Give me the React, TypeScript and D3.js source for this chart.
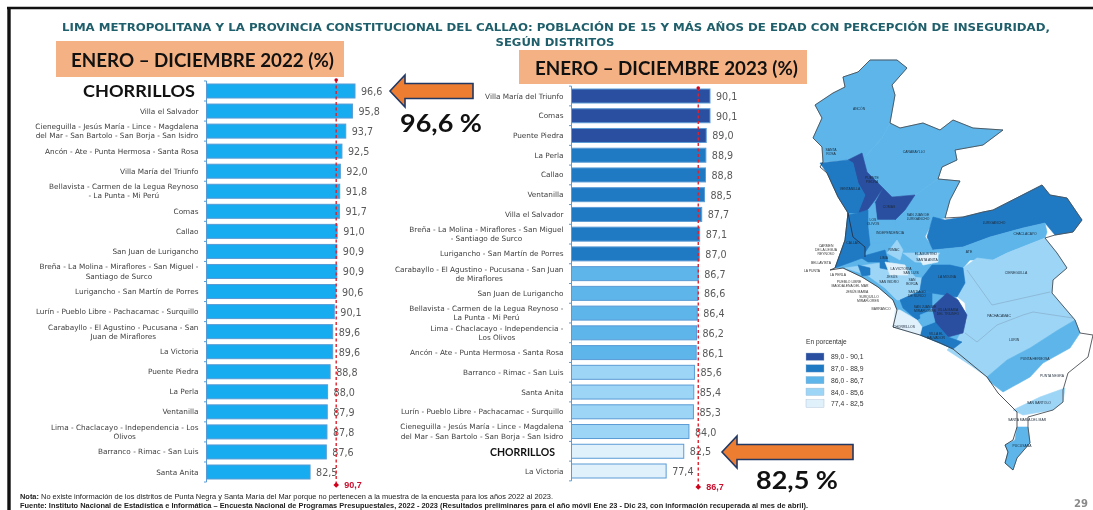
import React from "react";
import * as d3 from "d3";

// ---------- data ----------
const labels2022 = ["CHORRILLOS","Villa el Salvador","Cieneguilla - Jesús María - Lince - Magdalena\ndel Mar - San Bartolo - San Borja - San Isidro","Ancón - Ate - Punta Hermosa - Santa Rosa","Villa María del Triunfo","Bellavista - Carmen de la Legua Reynoso\n- La Punta - Mi Perú","Comas","Callao","San Juan de Lurigancho","Breña - La Molina - Miraflores - San Miguel -\nSantiago de Surco","Lurigancho - San Martín de Porres","Lurín - Pueblo Libre - Pachacamac - Surquillo","Carabayllo - El Agustino - Pucusana - San\nJuan de Miraflores","La Victoria","Puente Piedra","La Perla","Ventanilla","Lima - Chaclacayo - Independencia - Los\nOlivos","Barranco - Rimac - San Luis","Santa Anita"];
const values2022 = [96.6,95.8,93.7,92.5,92.0,91.8,91.7,91.0,90.9,90.9,90.6,90.1,89.6,89.6,88.8,88.0,87.9,87.8,87.6,82.5];
const labels2023 = ["Villa María del Triunfo","Comas","Puente Piedra","La Perla","Callao","Ventanilla","Villa el Salvador","Breña - La Molina - Miraflores - San Miguel\n- Santiago de Surco","Lurigancho - San Martín de Porres","Carabayllo - El Agustino - Pucusana - San Juan\nde Miraflores","San Juan de Lurigancho","Bellavista - Carmen de la Legua Reynoso -\nLa Punta - Mi Perú","Lima - Chaclacayo - Independencia -\nLos Olivos","Ancón - Ate - Punta Hermosa - Santa Rosa","Barranco - Rimac - San Luis","Santa Anita","Lurín - Pueblo Libre - Pachacamac - Surquillo","Cieneguilla - Jesús María - Lince - Magdalena\ndel Mar - San Bartolo - San Borja - San Isidro","CHORRILLOS","La Victoria"];
const values2023 = [90.1,90.1,89.0,88.9,88.8,88.5,87.7,87.1,87.0,86.7,86.6,86.4,86.2,86.1,85.6,85.4,85.3,84.0,82.5,77.4];
const average2022 = 90.7;
const average2023 = 86.7;
const legendLabels = ["89,0 - 90,1","87,0 - 88,9","86,0 - 86,7","84,0 - 85,6","77,4 - 82,5"];
const legendColors = ["#2B4FA0","#2079C3","#5DB5EA","#9DD5F6","#E0F1FC"];
const colorBreaks = [84,86,87,89];

// ---------- map shapes: [legend class, outline] ----------
type Shape = [number, number[][]];
const mapShapes: Shape[] = [
 [2,[[848,213],[868,205],[897,220],[925,237],[933,250],[963,268],[965,283],[953,293],[967,315],[963,333],[953,349],[920,335],[893,327],[897,310],[893,300],[878,287],[862,277],[843,268],[835,268],[845,240]]],
 [2,[[848,160],[865,157],[887,192],[895,220],[877,220],[858,213]]],
 [2,[[815,105],[833,93],[845,87],[843,77],[858,72],[870,60],[897,60],[907,68],[892,85],[895,95],[890,123],[882,138],[865,157],[847,160],[823,162],[822,147],[813,138],[822,118]]],
 [2,[[890,123],[900,128],[923,123],[940,130],[953,120],[973,128],[1003,130],[983,145],[955,150],[957,160],[942,167],[938,179],[918,193],[915,195],[892,197],[883,188],[867,172],[862,153],[865,157],[882,138]]],
 [2,[[938,179],[960,181],[950,200],[945,218],[933,220],[925,237],[933,248],[918,252],[897,242],[895,220],[915,195]]],
 [0,[[862,153],[867,172],[883,188],[875,200],[862,217],[858,212],[865,195],[858,183],[853,163],[848,160]]],
 [0,[[883,188],[892,197],[915,195],[905,210],[895,220],[877,220],[875,203]]],
 [1,[[820,163],[848,160],[853,163],[858,183],[865,195],[858,213],[848,213],[838,197],[827,173]]],
 [2,[[868,210],[875,203],[877,220],[895,220],[897,242],[878,243],[870,242]]],
 [1,[[858,213],[868,210],[868,227],[870,245],[862,257],[852,245],[848,215]]],
 [1,[[848,213],[853,237],[865,247],[865,257],[835,268],[845,240]]],
 [1,[[927,237],[933,217],[945,220],[963,217],[983,212],[993,210],[1042,185],[1050,195],[1067,198],[1082,220],[1073,232],[1055,235],[1045,223],[1023,228],[990,237],[963,247],[933,250]]],
 [2,[[933,250],[963,247],[990,237],[1023,228],[1045,223],[1047,232],[1045,238],[1007,253],[993,260],[970,260],[963,268],[937,267],[925,265]]],
 [3,[[963,268],[977,258],[993,260],[1007,253],[1045,238],[1057,253],[1067,268],[1053,280],[1052,293],[1075,320],[1058,330],[1030,348],[1007,360],[987,377],[970,365],[947,350],[957,340],[967,320],[965,303],[953,293],[965,283]]],
 [2,[[987,377],[1007,360],[1030,348],[1058,330],[1075,320],[1080,333],[1070,348],[1043,363],[1030,377],[1003,392],[990,382]]],
 [3,[[1013,410],[1040,397],[1065,388],[1063,402],[1053,410],[1023,415]]],
 [2,[[1017,427],[1028,427],[1030,443],[1017,458],[1013,470],[1005,463],[1008,452],[1005,445],[1015,440]]],
 [3,[[845,268],[880,263],[897,272],[900,278],[913,277],[922,278],[920,290],[900,300],[897,300],[885,288],[867,275]]],
 [1,[[922,278],[932,265],[950,265],[963,268],[965,283],[957,297],[932,293],[920,290]]],
 [0,[[932,307],[947,293],[958,300],[967,315],[963,333],[948,337],[935,323]]],
 [1,[[922,327],[935,322],[948,337],[962,342],[953,349],[940,343],[920,335]]],
 [1,[[900,300],[920,291],[932,293],[932,307],[922,317],[917,320],[903,308]]],
 [2,[[920,315],[932,310],[935,322],[922,327]]],
 [4,[[895,310],[900,310],[917,320],[922,327],[920,335],[912,333],[893,327]]],
 [1,[[858,265],[870,268],[870,275],[862,276]]],
 [1,[[860,257],[885,250],[888,262],[868,262]]],
 [1,[[880,262],[890,262],[890,270],[880,268]]],
 [3,[[887,253],[897,240],[903,250],[900,260]]],
 [3,[[893,267],[907,267],[915,277],[900,278]]],
 [3,[[903,253],[940,253],[932,263],[915,262]]],
 [4,[[918,256],[938,253],[938,262],[923,265]]],
 [4,[[885,262],[905,265],[908,275],[890,275]]],
];
const outerEdge = [[823,162],[822,147],[813,138],[822,118],[815,105],[833,93],[845,87],[843,77],[858,72],[870,60],[897,60],[907,68],[892,85],[895,95],[890,123],[900,128],[923,123],[940,130],[953,120],[973,128],[1003,130],[983,145],[955,150],[957,160],[942,167],[938,179],[960,181],[950,200],[945,218],[963,217],[983,212],[993,210],[1042,185],[1050,195],[1067,198],[1082,220],[1073,232],[1055,235],[1045,238],[1057,253],[1067,268],[1053,280],[1052,293],[1075,320],[1080,333],[1093,335],[1088,357],[1068,373],[1063,390],[1063,402],[1053,410],[1028,417],[1028,427],[1030,443],[1017,458],[1013,470]];
const coast = [[823,162],[820,167],[827,173],[838,197],[848,213],[845,240],[835,268],[830,270],[843,268],[862,277],[878,287],[893,300],[897,310],[893,327],[920,335],[940,343],[953,349],[987,377],[998,393],[1017,412],[1017,427],[1013,440],[1005,445],[1008,452],[1005,463],[1013,470]];
const innerDark = [[848,213],[853,237],[865,247],[865,257]];
const innerThin = [[[965,333],[977,342],[997,325],[1023,315],[1033,312],[1073,318]],[[967,270],[992,305],[1050,292]]];
const mapNames: [string,number,number][] = [["ANCÓN",859,110],["SANTA",831,151],["ROSA",831,155],["CARABAYLLO",914,153],["PUENTE",872,179],["PIEDRA",872,183],["VENTANILLA",850,190],["COMAS",889,208],["LOS",873,221],["OLIVOS",873,225],["INDEPENDENCIA",890,234],["SAN JUAN DE",918,216],["LURIGANCHO",918,220],["LURIGANCHO",994,224],["CHACLACAYO",1025,235],["ATE",969,253],["CALLAO",853,244],["CIENEGUILLA",1016,274],["EL AGUSTINO",926,255],["SANTA ANITA",927,261],["LA MOLINA",947,278],["PACHACAMAC",999,317],["LURÍN",1014,341],["PUNTA HERMOSA",1035,360],["PUNTA NEGRA",1052,377],["SAN BARTOLO",1039,404],["SANTA MARÍA DEL MAR",1027,421],["PUCUSANA",1022,447],["CHORRILLOS",904,328],["VILLA EL",936,335],["SALVADOR",936,339],["VILLA MARÍA",948,311],["DEL TRIUNFO",948,315],["SAN JUAN DE",925,308],["MIRAFLORES",925,312],["SANTIAGO",917,293],["DE SURCO",917,297],["LIMA",884,259],["LA VICTORIA",901,270],["SAN LUIS",911,274],["JESÚS",892,278],["SAN ISIDRO",889,283],["SAN",912,281],["BORJA",912,285],["RIMAC",894,251]];
const coastNames: [string,number,number][] = [["CARMEN",826,247],["DE LA LEGUA",826,251],["REYNOSO",826,255],["BELLAVISTA",821,264],["LA PUNTA",812,272],["LA PERLA",838,276],["PUEBLO LIBRE",849,283],["MAGDALENA DEL MAR",850,287],["JESÚS MARÍA",857,293],["SURQUILLO",869,298],["MIRAFLORES",868,302],["BARRANCO",881,310]];

const FONT = "'DejaVu Sans', sans-serif";
const ARIAL = "'Liberation Sans', Arial, sans-serif";
const LATO = "Lato, 'Open Sans', sans-serif";
const LABEL_SIZE = 7.3;

const classOf = d3.scaleThreshold<number, string>().domain(colorBreaks).range([...legendColors].reverse());
const lineGen = d3.line<number[]>().x(d => d[0]).y(d => d[1]);

const ctx = document.createElement("canvas").getContext("2d")!;
function textWidth(s: string) {
  ctx.font = `${LABEL_SIZE}px 'DejaVu Sans'`;
  return ctx.measureText(s).width;
}

function Bars({labels, values, avg, x0, x1max, yFirst, yLast, color, avgTop, avgBottom}:
 {labels:string[]; values:number[]; avg:number; x0:number; x1max:number; yFirst:number; yLast:number; color:(v:number)=>string; avgTop:number; avgBottom:number}) {
  const x = d3.scaleLinear().domain([50, values[0]]).range([x0, x1max]);
  const idx = d3.range(labels.length);
  const step = (yLast - yFirst) / (labels.length - 1);
  const y = d3.scalePoint<number>().domain(idx).range([yFirst, yLast]);
  const h = 14;
  const right = x0 - 8;
  return (
    <g>
      {idx.map(i => (
        <rect key={i} x={x0} y={y(i)! - h / 2} width={x(values[i]) - x0} height={h} fill={color(values[i])} stroke="#5B9BD5" strokeWidth={1} />
      ))}
      <line x1={x0} x2={x0} y1={yFirst - step / 2} y2={yLast + step / 2} stroke="#5B9BD5" strokeWidth={1} />
      {d3.range(labels.length + 1).map(i => (
        <line key={i} x1={x0 - 2.5} x2={x0} y1={yFirst - step / 2 + i * step} y2={yFirst - step / 2 + i * step} stroke="#5B9BD5" strokeWidth={1} />
      ))}
      {idx.map(i => {
        if (labels[i] === "CHORRILLOS") return null;
        const ls = labels[i].split("\n");
        const cx = right - d3.max(ls, textWidth)! / 2;
        return (
          <text key={i} textAnchor="middle" fontFamily={FONT} fontSize={LABEL_SIZE} fill="#404040">
            {ls.map((l, j) => (
              <tspan key={j} x={cx} y={y(i)! + 2.5 + (ls.length > 1 ? (j - 0.5) * 9.2 : 0)}>{l}</tspan>
            ))}
          </text>
        );
      })}
      {idx.map(i => (
        <text key={i} x={x(values[i]) + 6} y={y(i)! + 4} fontFamily={FONT} fontSize={9.6} fill="#595959">
          {values[i].toFixed(1).replace(".", ",")}
        </text>
      ))}
      <line x1={x(avg)} x2={x(avg)} y1={avgTop} y2={avgBottom} stroke="#E0202C" strokeWidth={1.4} strokeDasharray="3 2.5" />
      <circle cx={x(avg)} cy={avgTop} r={1.8} fill="#D0021B" />
      <path d={`M${x(avg)},${avgBottom - 2.8}l2.8,2.8l-2.8,2.8l-2.8,-2.8z`} fill="#D0021B" />
      <text x={x(avg) + 8} y={avgBottom + 3.2} fontFamily={ARIAL} fontWeight={700} fontSize={9} fill="#C8102E">{avg.toFixed(1).replace(".", ",")}</text>
    </g>
  );
}

function Arrow({tip, right, cy}: {tip:number; right:number; cy:number}) {
  const d = `M${tip},${cy}L${tip + 15},${cy - 16}L${tip + 15},${cy - 7.5}L${right},${cy - 7.5}L${right},${cy + 7.5}L${tip + 15},${cy + 7.5}L${tip + 15},${cy + 16}Z`;
  return <path d={d} fill="#ED7D31" stroke="#203864" strokeWidth={1.6} strokeLinejoin="miter" />;
}

export default function App() {
  return (
    <svg width={1093} height={510} viewBox="0 0 1093 510" style={{position:"absolute", left:0, top:0, background:"#fff", filter:"blur(0.4px)"}}>
      <line x1={7} x2={1093} y1={8} y2={8} stroke="#111" strokeWidth={2.4} />
      <line x1={9} x2={9} y1={7} y2={510} stroke="#111" strokeWidth={3.4} />

      <text x={62} y={31} textLength={988} lengthAdjust="spacingAndGlyphs" fontFamily={FONT} fontWeight={700} fontSize={11} fill="#1F5F6B">LIMA METROPOLITANA Y LA PROVINCIA CONSTITUCIONAL DEL CALLAO: POBLACIÓN DE 15 Y MÁS AÑOS DE EDAD CON PERCEPCIÓN DE INSEGURIDAD,</text>
      <text x={555} y={46} textAnchor="middle" fontFamily={FONT} fontWeight={700} fontSize={11} fill="#1F5F6B" textLength={119} lengthAdjust="spacingAndGlyphs">SEGÚN DISTRITOS</text>

      <Bars labels={labels2022} values={values2022} avg={average2022} x0={206.5} x1max={355} yFirst={91} yLast={472} color={() => "#17ABF0"} avgTop={80} avgBottom={485} />
      <Bars labels={labels2023} values={values2023} avg={average2023} x0={571.5} x1max={710} yFirst={96} yLast={471} color={v => classOf(v)} avgTop={88} avgBottom={487} />

      <rect x={56} y={41} width={288} height={36} fill="#F4B183" />
      <text x={71} y={66.5} textLength={263} lengthAdjust="spacingAndGlyphs" fontFamily={LATO} fontWeight={700} fontSize={19} fill="#111">ENERO – DICIEMBRE 2022 (%)</text>
      <rect x={519} y={50} width={288} height={34} fill="#F4B183" />
      <text x={535} y={74.5} textLength={263} lengthAdjust="spacingAndGlyphs" fontFamily={LATO} fontWeight={700} fontSize={19} fill="#111">ENERO – DICIEMBRE 2023 (%)</text>

      <text x={83} y={97} textLength={112} lengthAdjust="spacingAndGlyphs" fontFamily={LATO} fontWeight={700} fontSize={17.5} fill="#111">CHORRILLOS</text>
      <text x={490} y={456} textLength={65} lengthAdjust="spacingAndGlyphs" fontFamily={LATO} fontWeight={700} fontSize={10.5} fill="#111">CHORRILLOS</text>

      <Arrow tip={390} right={473} cy={91} />
      <Arrow tip={722} right={853} cy={452} />
      <text x={400} y={132} textLength={82} lengthAdjust="spacingAndGlyphs" fontFamily={LATO} fontWeight={700} fontSize={25} fill="#111">96,6 %</text>
      <text x={756} y={489} textLength={82} lengthAdjust="spacingAndGlyphs" fontFamily={LATO} fontWeight={700} fontSize={25} fill="#111">82,5 %</text>

      <g>
        {mapShapes.map((s, i) => (
          <path key={i} d={lineGen(s[1]) + "Z"} fill={legendColors[s[0]]} stroke={legendColors[s[0]]} strokeWidth={0.6} />
        ))}
        {innerThin.map((l, i) => <path key={i} d={lineGen(l)!} fill="none" stroke="#7f9fbb" strokeWidth={0.5} />)}
        <path d={lineGen(outerEdge)!} fill="none" stroke="#4a4f55" strokeWidth={0.9} />
        <path d={lineGen(coast)!} fill="none" stroke="#3a3f45" strokeWidth={0.9} />
        <path d={lineGen(innerDark)!} fill="none" stroke="#22334d" strokeWidth={0.9} />
        {mapNames.map((n, i) => (
          <text key={i} x={n[1]} y={n[2]} textAnchor="middle" fontFamily={ARIAL} fontSize={3.4} fill="#1d2a38">{n[0]}</text>
        ))}
        {coastNames.map((n, i) => (
          <text key={i} x={n[1]} y={n[2]} textAnchor="middle" fontFamily={ARIAL} fontSize={3.4} fill="#333">{n[0]}</text>
        ))}
      </g>

      <text x={806} y={344} fontFamily={ARIAL} fontSize={6.6} fill="#333">En porcentaje</text>
      {legendLabels.map((l, i) => (
        <g key={l}>
          <rect x={806} y={353 + i * 11.7} width={18} height={7.4} fill={legendColors[i]} stroke="#9fb8d0" strokeWidth={0.4} />
          <text x={831} y={359.4 + i * 11.7} fontFamily={ARIAL} fontSize={6.8} fill="#333">{l}</text>
        </g>
      ))}

      <text x={20} y={499} textLength={533} lengthAdjust="spacingAndGlyphs" fontFamily={ARIAL} fontSize={6.6} fill="#222"><tspan fontWeight={700}>Nota:</tspan> No existe información de los distritos de Punta Negra y Santa María del Mar porque no pertenecen a la muestra de la encuesta para los años 2022 al 2023.</text>
      <text x={20} y={507.5} textLength={788} lengthAdjust="spacingAndGlyphs" fontFamily={ARIAL} fontWeight={700} fontSize={6.6} fill="#222">Fuente: Instituto Nacional de Estadística e Informática – Encuesta Nacional de Programas Presupuestales, 2022 - 2023 (Resultados preliminares para el año móvil Ene 23 - Dic 23, con información recuperada al mes de abril).</text>
      <text x={1074} y={507} fontFamily={FONT} fontWeight={700} fontSize={10} fill="#8a8a8a">29</text>
    </svg>
  );
}
